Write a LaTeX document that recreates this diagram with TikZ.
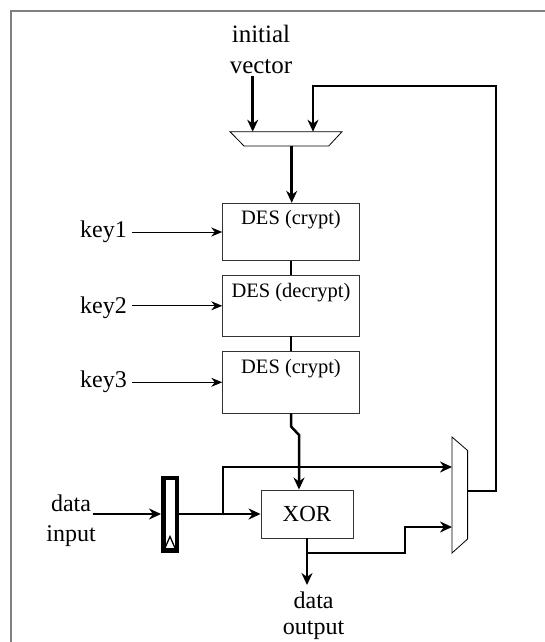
\documentclass[tikz,border=0pt]{standalone}
\usepackage{fontspec}
\setmainfont{Liberation Serif}
\usetikzlibrary{arrows.meta, calc}

\begin{document}
\begin{tikzpicture}[x=1pt, y=-1pt,
    bus/.style={line width=2.5pt},
    busarrow/.style={bus, -{Stealth[length=12pt, width=11pt]}},
    keyarrow/.style={line width=0.9pt, -{Stealth[length=11pt, width=9pt]}},
    desbox/.style={draw=black!80, line width=0.9pt, minimum width=136.6pt, inner sep=0pt},
    deslabel/.style={anchor=base, font=\fontsize{20.5}{23}\selectfont},
    keylabel/.style={anchor=base east, inner sep=0pt, font=\fontsize{24}{27}\selectfont},
    biglabel/.style={anchor=north, align=center, inner sep=0pt},
    muxline/.style={line width=0.8pt}]
    \useasboundingbox (0,0) rectangle (545,642);
    % Draw frame
    \draw[black!50, line width=1.5pt] (11,642) -- (11,11) -- (545,11);
    % Input muxes
    \draw[muxline] (230,131.7) -- (342,131.7) -- (328.7,146) -- (244,146) -- cycle;
    \coordinate (m1a) at (252.7,131.7);
    \coordinate (m1b) at (313,131.7);
    \coordinate (m1out) at (291.7,146);
    \draw[muxline] (452,437) -- (467.6,450.5) -- (467.6,539) -- (452,553) -- cycle;
    \coordinate (m2a) at (452,467);
    \coordinate (m2b) at (452,527);
    \coordinate (m2out) at (467.6,491);
    % Labels
    \node[biglabel, font=\fontsize{25}{31}\selectfont] (iv) at (261,24.6) {initial\\vector};
    \node[biglabel, font=\fontsize{24}{30}\selectfont] (din) at (71,494.5) {data\\input};
    \node[biglabel, font=\fontsize{24}{26}\selectfont] (dout) at (313.6,592) {data\\output};
    % DES stages
    \node[desbox, minimum height=57.4pt] (d1) at (291,232) {};
    \node[desbox, minimum height=60.3pt] (d2) at (291,305.8) {};
    \node[desbox, minimum height=61.3pt] (d3) at (291,382.3) {};
    \node[deslabel] (t1) at ([yshift=-22pt]d1.north) {DES (crypt)};
    \node[deslabel] (t2) at ([yshift=-22pt]d2.north) {DES (decrypt)};
    \node[deslabel] (t3) at ([yshift=-22pt]d3.north) {DES (crypt)};
    \node[keylabel] (key1) at (127,237) {key1};
    \node[keylabel] (key2) at (127,313) {key2};
    \node[keylabel] (key3) at (127,387) {key3};
    \foreach \k in {1,2,3} {
        \draw[keyarrow] (key\k.east |- d\k.west) ++(5,0) -- (d\k.west);
    }
    % Register and XOR
    \node[draw, line width=4.5pt, minimum width=13.5pt, minimum height=72.5pt, inner sep=0pt] (reg) at (170,514) {};
    \draw[line width=1.3pt] ([xshift=-5pt, yshift=4.5pt]reg.south) -- ([yshift=16pt]reg.south) -- ([xshift=5pt, yshift=4.5pt]reg.south);
    \node[draw=black!80, line width=0.9pt, minimum width=92pt, minimum height=48pt, inner sep=0pt,
        font=\fontsize{23}{26}\selectfont] (xor) at (307,514) {XOR};
    \coordinate (rj) at (223,514);
    \coordinate (kink) at (299,435);
    \coordinate (xj) at (307,553);
    % Connections
    \draw[busarrow] (iv.south -| m1a) ++(0,2) -- (m1a);
    \draw[busarrow] (m1out) -- (m1out |- d1.north);
    \draw[bus] (d1.south) -- (d2.north);
    \draw[bus] (d2.south) -- (d3.north);
    \draw[busarrow] (d3.south) -- ++(0,13) -- (kink) -- (kink |- xor.north);
    \draw[busarrow] (din.east |- reg.west) ++(-3,0) -- (reg.west);
    \draw[busarrow] (reg.east) -- (xor.west);
    \draw[busarrow] (rj) |- (m2a);
    \draw[busarrow] (xj) -| (405,527) -- (m2b);
    \draw[busarrow] (xor.south) -- (xor.south |- 0,585);
    \draw[busarrow] (m2out) -| (496,86) -| (m1b);
\end{tikzpicture}
\end{document}
